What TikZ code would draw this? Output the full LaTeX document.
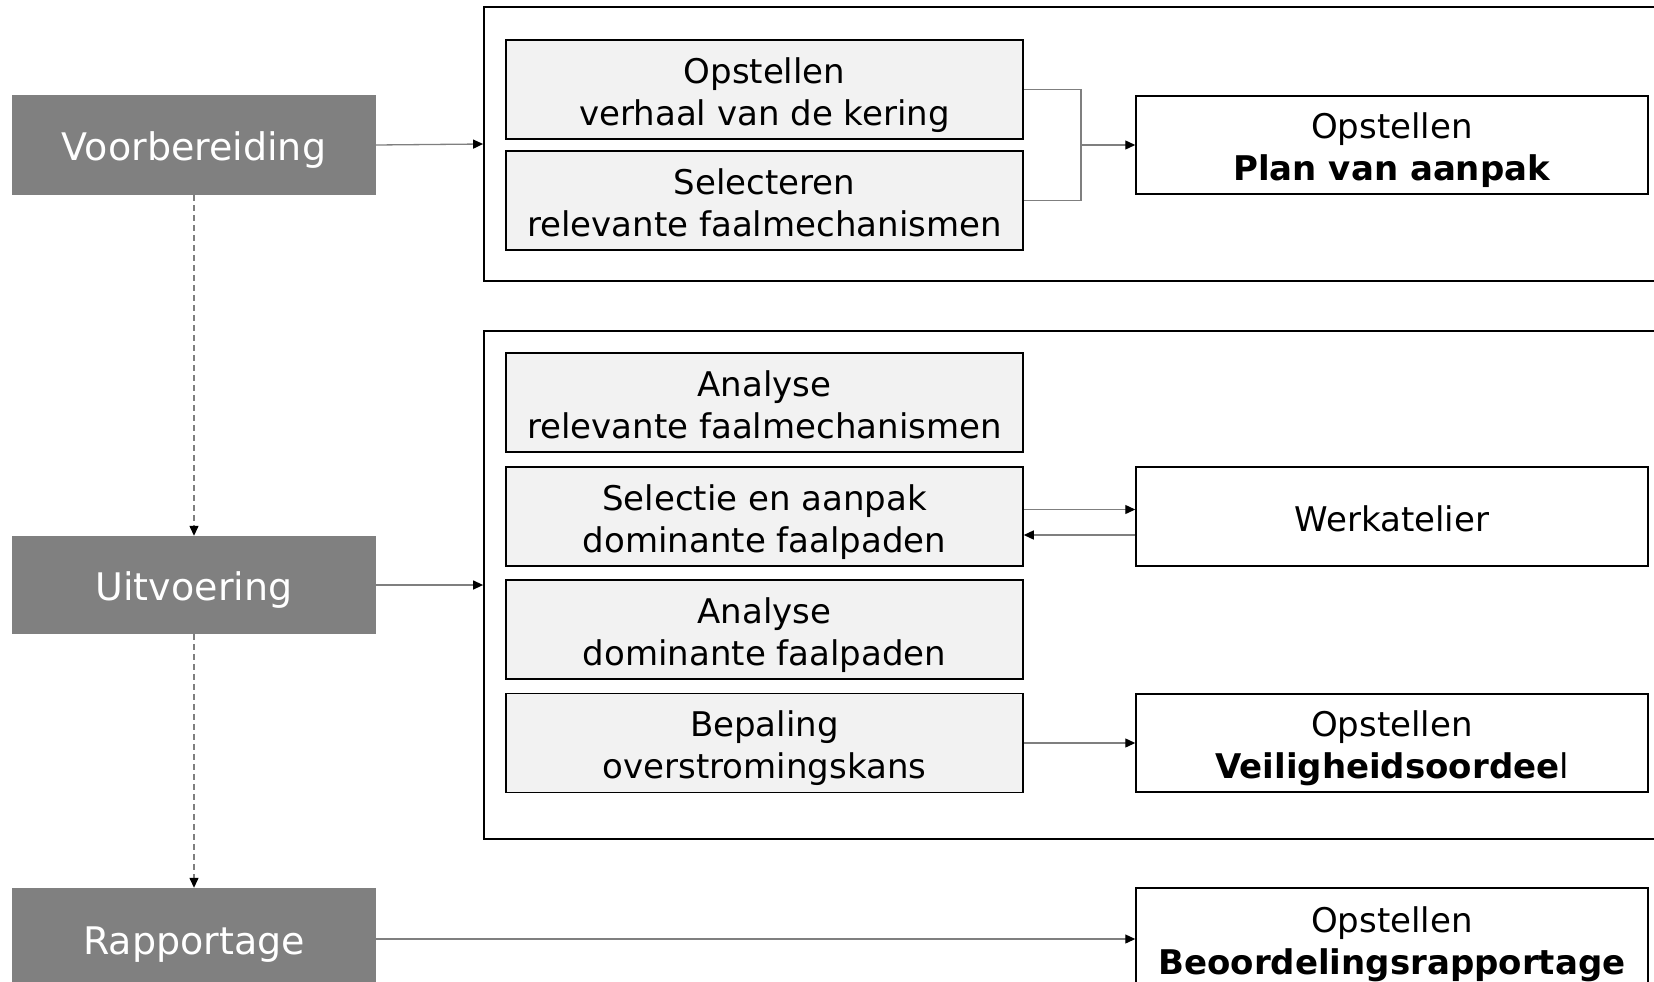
\documentclass[tikz,border=0pt]{standalone}
\usepackage{fontspec}
\setmainfont{DejaVu Sans}
\usetikzlibrary{arrows.meta}
\definecolor{phasegray}{HTML}{808080}
\definecolor{lightbox}{HTML}{F2F2F2}
\definecolor{conngray}{HTML}{7F7F7F}
\newcommand{\hstrut}{\rule{0pt}{37pt}}
\begin{document}
\begin{tikzpicture}[x=1pt,y=-1pt,
  phasebox/.style={fill=phasegray, draw=none, text=white, inner sep=0pt,
    font=\fontsize{38}{46}\selectfont, minimum width=364pt,
    execute at begin node={\rule{0pt}{38.2pt}},
    execute at end node={\rule[-8pt]{0pt}{0pt}}},
  stepbox/.style={fill=lightbox, draw=black, line width=1.5pt, align=center, inner sep=0pt,
    font=\fontsize{34}{42}\selectfont, minimum width=517pt, minimum height=99pt,
    execute at end node={\rule[-8pt]{0pt}{0pt}}},
  resbox/.style={fill=white, draw=black, line width=1.5pt, align=center, inner sep=0pt,
    font=\fontsize{34}{42}\selectfont, minimum width=512pt, minimum height=98pt,
    execute at end node={\rule[-8pt]{0pt}{0pt}}},
  framebox/.style={draw=black, line width=1.8pt, inner sep=0pt, minimum width=1186pt},
  connline/.style={draw=conngray, line width=1.3pt},
  connarrow/.style={connline, -{Triangle[length=10pt,width=9pt,color=black]}},
  dasharrow/.style={connline, dash pattern=on 6pt off 4pt, -{Triangle[length=10pt,width=9pt,color=black]}}
]
\useasboundingbox (0,0) rectangle (1654,982);

% frames
\node[framebox, minimum height=274pt] (topframe) at (1077,144) {};
\node[framebox, minimum height=508pt] (midframe) at (1077,585) {};

% phases
\node[phasebox, minimum height=100pt] (voor) at (194,145) {Voorbereiding};
\node[phasebox, minimum height=98pt] (uit) at (194,585) {Uitvoering};
\node[phasebox, minimum height=102pt] (rap) at (194,939) {Rapportage};

% steps
\node[stepbox] (a1) at (764.5,89.5) {\hstrut Opstellen\\verhaal van de kering};
\node[stepbox] (a2) at (764.5,200.5) {\hstrut Selecteren\\relevante faalmechanismen};
\node[stepbox] (b1) at (764.5,402.5) {\hstrut Analyse\\relevante faalmechanismen};
\node[stepbox] (b2) at (764.5,516.5) {\hstrut Selectie en aanpak\\dominante faalpaden};
\node[stepbox] (b3) at (764.5,629.5) {\hstrut Analyse\\dominante faalpaden};
\node[stepbox] (b4) at (764.5,743) {\hstrut Bepaling\\overstromingskans};

% results
\node[resbox] (plan) at (1392,145) {\hstrut Opstellen\\\textbf{Plan van aanpak}};
\node[resbox, minimum height=99pt] (werk) at (1392,516.5) {\hstrut Werkatelier};
\node[resbox] (veil) at (1392,743) {\hstrut Opstellen\\\textbf{Veiligheidsoordee}l};
\node[resbox, minimum height=102pt] (beoord) at (1392,939) {\hstrut Opstellen\\\textbf{Beoordelingsrapportage}};

% connectors
\draw[connarrow] (voor.east) -- (topframe.west);
\draw[connarrow] (uit.east) -- (midframe.west);
\draw[connarrow] (rap.east) -- (beoord.west);
\draw[dasharrow] (voor.south) -- (uit.north);
\draw[dasharrow] (uit.south) -- (rap.north);

\coordinate (brk) at (1081,145);
\draw[connline] (a1.east) -| (brk) |- (a2.east);
\draw[connarrow] (brk) -- (plan.west);

\draw[connarrow] ([yshift=7pt]b2.east) -- ([yshift=7pt]werk.west);
\draw[connarrow] ([yshift=-18.5pt]werk.west) -- ([yshift=-18.5pt]b2.east);
\draw[connarrow] (b4.east) -- (veil.west);
\end{tikzpicture}
\end{document}
